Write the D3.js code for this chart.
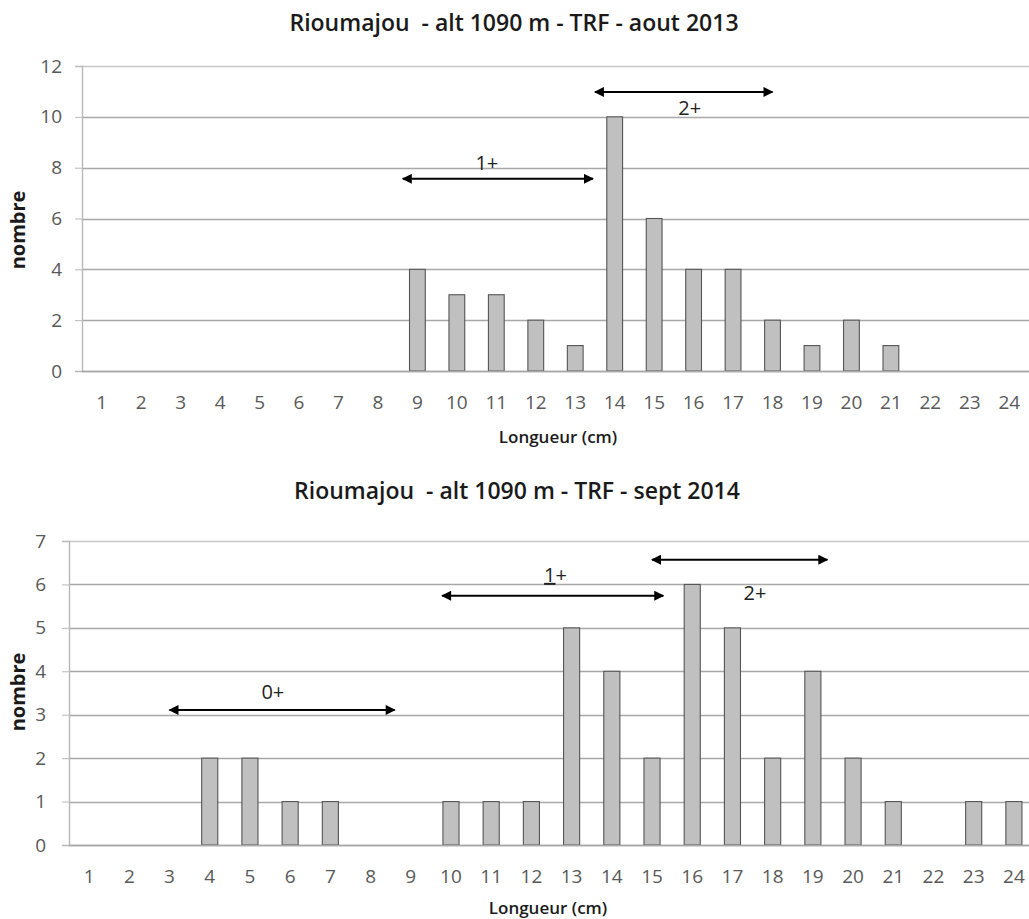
<!DOCTYPE html>
<html>
<head>
<meta charset="utf-8">
<script src="https://cdn.jsdelivr.net/npm/d3@7"></script>
<style>
  body { margin: 0; background: #fff; }
  text { font-family: "Open Sans", sans-serif; }
</style>
</head>
<body>
<script>
"use strict";
// categories: length classes in cm
const lengths = d3.range(1, 25);
// counts per length class
const counts2013 = [0, 0, 0, 0, 0, 0, 0, 0, 4, 3, 3, 2, 1, 10, 6, 4, 4, 2, 1, 2, 1, 0, 0, 0];
const counts2014 = [0, 0, 0, 2, 2, 1, 1, 0, 0, 1, 1, 1, 5, 4, 2, 6, 5, 2, 4, 2, 1, 0, 1, 1];
const ticks2013 = [0, 2, 4, 6, 8, 10, 12];
const ticks2014 = [0, 1, 2, 3, 4, 5, 6, 7];
// age class arrows: from / to (length units), y value, label position
const arrows2013 = [
    { label: "1+", from: 8.63, to: 13.45, y: 7.56, lx: 10.76, ly: 8.2 },
    { label: "2+", from: 13.5, to: 18.0, y: 10.98, lx: 15.9, ly: 10.35 }
];
const arrows2014 = [
    { label: "0+", from: 3.0, to: 8.6, y: 3.11, lx: 5.57, ly: 3.52 },
    { label: "1+", from: 9.78, to: 15.28, y: 5.74, lx: 12.6, ly: 6.22, underline: true },
    { label: "2+", from: 15.0, to: 19.36, y: 6.57, lx: 17.56, ly: 5.8 }
];

const svg = d3.select("body").append("svg")
    .attr("width", 1029)
    .attr("height", 919);

svg.append("defs").append("marker")
    .attr("id", "head")
    .attr("viewBox", "0 0 10 10")
    .attr("refX", 9).attr("refY", 5)
    .attr("markerWidth", 6).attr("markerHeight", 5)
    .attr("markerUnits", "strokeWidth")
    .attr("orient", "auto-start-reverse")
    .append("path")
    .attr("d", "M0,0 L10,5 L0,10 Z")
    .attr("fill", "#000");

function drawChart(opt) {
    const g = svg.append("g");
    const x = d3.scaleBand()
        .domain(lengths)
        .range([opt.left, opt.right])
        .paddingInner(0.6)
        .paddingOuter(0.3);
    const xc = d3.scaleLinear()
        .domain([0.5, 24.5])
        .range([opt.left, opt.right]);
    const y = d3.scaleLinear()
        .domain([0, d3.max(opt.ticks)])
        .range([opt.bottom, opt.top]);

    // gridlines
    g.append("g").selectAll("line")
        .data(opt.ticks)
        .enter().append("line")
        .attr("x1", opt.left).attr("x2", 1029)
        .attr("y1", d => Math.round(y(d)) + 0.5)
        .attr("y2", d => Math.round(y(d)) + 0.5)
        .attr("stroke", d => d === d3.max(opt.ticks) ? "#c8c8c8" : "#a8a8a8")
        .attr("stroke-width", 1.4);

    // y axis
    const yAxis = d3.axisLeft(y).tickValues(opt.ticks).tickFormat(d3.format("d"))
        .tickSize(7).tickPadding(opt.yPad);
    const ya = g.append("g")
        .attr("transform", "translate(" + opt.left + ",0)")
        .call(yAxis);
    ya.select(".domain").attr("stroke", "#b8b8b8").attr("stroke-width", 1.4);
    ya.selectAll(".tick line").attr("stroke", "#b8b8b8");
    ya.selectAll("text").attr("font-size", 19).attr("fill", "#595959");

    // bars
    g.append("g").selectAll("rect")
        .data(opt.values.map((v, i) => ({ len: lengths[i], v: v })).filter(d => d.v > 0))
        .enter().append("rect")
        .attr("x", d => x(d.len))
        .attr("width", x.bandwidth())
        .attr("y", d => y(d.v))
        .attr("height", d => y(0) - y(d.v))
        .attr("fill", "#c0c0c0")
        .attr("stroke", "#555")
        .attr("stroke-width", 1.1);

    // x axis labels
    const xAxis = d3.axisBottom(x).tickSize(0).tickPadding(25);
    const xa = g.append("g")
        .attr("transform", "translate(0," + opt.bottom + ")")
        .call(xAxis);
    xa.select(".domain").remove();
    xa.selectAll("text").attr("font-size", 19).attr("fill", "#595959");
    g.append("line")
        .attr("x1", opt.left).attr("x2", 1029)
        .attr("y1", Math.round(opt.bottom) + 0.5).attr("y2", Math.round(opt.bottom) + 0.5)
        .attr("stroke", "#a8a8a8").attr("stroke-width", 1.4);

    // arrows
    g.append("g").selectAll("line")
        .data(opt.arrows)
        .enter().append("line")
        .attr("x1", d => xc(d.from)).attr("x2", d => xc(d.to))
        .attr("y1", d => y(d.y)).attr("y2", d => y(d.y))
        .attr("stroke", "#000")
        .attr("stroke-width", 2)
        .attr("marker-start", "url(#head)")
        .attr("marker-end", "url(#head)");
    const labels = g.append("g").selectAll("text")
        .data(opt.arrows)
        .enter().append("text")
        .attr("x", d => xc(d.lx)).attr("y", d => y(d.ly))
        .attr("dy", "0.35em")
        .attr("text-anchor", "middle")
        .attr("font-size", 20)
        .attr("fill", "#222");
    labels.append("tspan")
        .style("text-decoration", d => d.underline ? "underline" : "none")
        .text(d => d.label.charAt(0));
    labels.append("tspan")
        .text(d => d.label.slice(1));

    // titles
    g.append("text")
        .attr("x", opt.titleX).attr("y", opt.titleY)
        .attr("dy", "0.35em")
        .attr("text-anchor", "middle")
        .attr("font-size", 23)
        .attr("font-weight", 600)
        .attr("fill", "#1a1a1a")
        .style("white-space", "pre")
        .text(opt.title);
    g.append("text")
        .attr("x", opt.xlabX).attr("y", opt.xlabY)
        .attr("dy", "0.35em")
        .attr("text-anchor", "middle")
        .attr("font-size", 17)
        .attr("font-weight", 600)
        .attr("fill", "#1a1a1a")
        .text("Longueur (cm)");
    g.append("text")
        .attr("transform", "translate(18," + opt.ylabY + ")rotate(-90)")
        .attr("dy", "0.35em")
        .attr("text-anchor", "middle")
        .attr("font-size", 20)
        .attr("font-weight", 700)
        .attr("fill", "#1a1a1a")
        .text("nombre");
}

drawChart({
    values: counts2013, ticks: ticks2013, arrows: arrows2013,
    left: 82, right: 1029, top: 66, bottom: 371, yPad: 13,
    title: "Rioumajou  - alt 1090 m - TRF - aout 2013",
    titleX: 514, titleY: 23, xlabX: 558, xlabY: 437, ylabY: 230
});
drawChart({
    values: counts2014, ticks: ticks2014, arrows: arrows2014,
    left: 69, right: 1034, top: 541, bottom: 845, yPad: 16,
    title: "Rioumajou  - alt 1090 m - TRF - sept 2014",
    titleX: 517, titleY: 491, xlabX: 548, xlabY: 908, ylabY: 692
});
</script>
</body>
</html>
